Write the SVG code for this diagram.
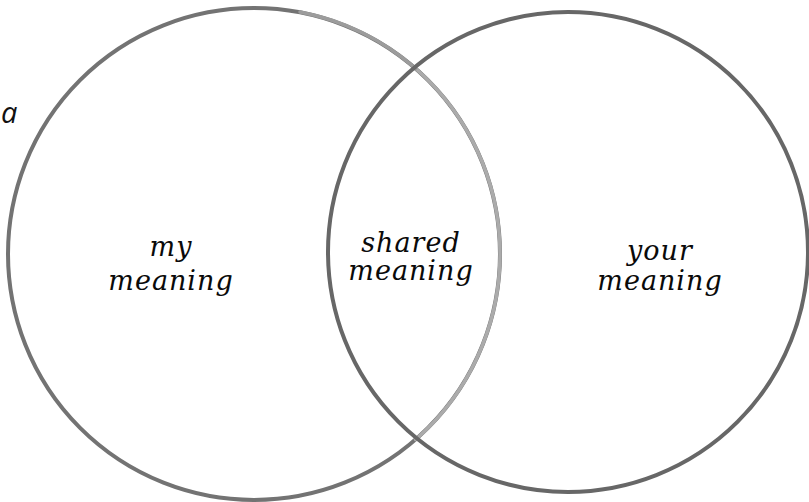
<svg xmlns="http://www.w3.org/2000/svg" width="809" height="502" viewBox="0 0 809 502">
<style>
.c{fill:none;stroke-linecap:round}
.t{font-family:"DejaVu Serif","Liberation Serif",serif;font-style:italic;font-size:27px;letter-spacing:1px;fill:#0a0a0a;text-anchor:middle}
.s{font-family:"Open Sans",sans-serif;font-style:italic;font-size:29px;fill:#111}
</style>
<rect width="809" height="502" fill="#fff"/>
<g id="connectors"></g>
<g id="my-meaning">
<circle class="c" cx="254" cy="254" r="246" stroke="#737373" stroke-width="4"/>
<path class="c" d="M415.6 68.5 A246 246 0 0 1 415.6 439.5" stroke="#ababab" stroke-width="3.5"/>
<path class="c" d="M300 12 A246 246 0 0 1 415.6 68.5" stroke="#9c9c9c" stroke-width="3.5"/>
<text class="t" x="171" y="256">my</text>
<text class="t" x="171" y="290">meaning</text>
</g>
<g id="your-meaning">
<circle class="c" cx="568" cy="252" r="240" stroke="#676767" stroke-width="4"/>
<text class="t" x="660" y="260">your</text>
<text class="t" x="660" y="290">meaning</text>
</g>
<g id="shared-meaning">
<text class="t" x="411" y="252">shared</text>
<text class="t" x="411" y="280">meaning</text>
</g>
<g id="label-a">
<text class="s" x="1" y="123">a</text>
</g>
</svg>
